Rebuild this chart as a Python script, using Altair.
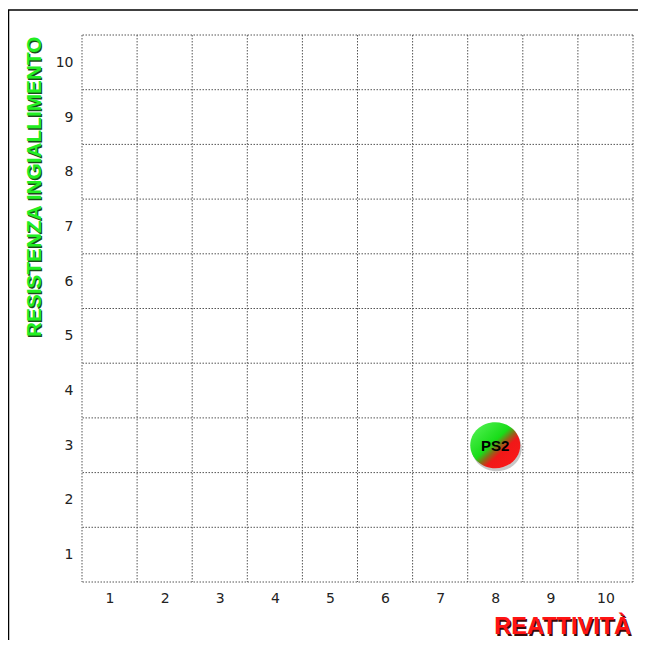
import altair as alt
import pandas as pd

# ---- data ----
ticks = [1, 2, 3, 4, 5, 6, 7, 8, 9, 10]
grid_edges = [0.5, 1.5, 2.5, 3.5, 4.5, 5.5, 6.5, 7.5, 8.5, 9.5, 10.5]
names = ["PS2"]
reattivita = [8]
resistenza = [3]
x_title = ["REATTIVITÀ"]
y_title = ["RESISTENZA INGIALLIMENTO"]

W, H = 551, 547
dom = [0.5, 10.5]

pts = pd.DataFrame({"name": names, "x": reattivita, "y": resistenza})
edges = pd.DataFrame({"e": grid_edges})

xs = alt.Scale(domain=dom, nice=False, zero=False)
ys = alt.Scale(domain=dom, nice=False, zero=False)

ax_common = dict(values=ticks, grid=False, domain=False, ticks=False,
                 labelFont="DejaVu Sans", labelFontSize=14, labelColor="#222",
                 title=None, format="d")
ax_x = alt.Axis(labelPadding=9, **ax_common)
ax_y = alt.Axis(labelPadding=9, **ax_common)

grid_style = dict(color="#555", strokeDash=[1.5, 1.5], strokeWidth=1)

vgrid = alt.Chart(edges).mark_rule(**grid_style).encode(
    x=alt.X("e:Q", scale=xs, axis=ax_x))
hgrid = alt.Chart(edges).mark_rule(**grid_style).encode(
    y=alt.Y("e:Q", scale=ys, axis=ax_y))

ellipse = "M -1 0 A 1 0.92 0 1 1 1 0 A 1 0.92 0 1 1 -1 0 Z"
grad = alt.LinearGradient(
    gradient="linear", x1=0, y1=0, x2=1, y2=1,
    stops=[alt.GradientStop(offset=0, color="#5cf55c"),
           alt.GradientStop(offset=0.45, color="#18dc18"),
           alt.GradientStop(offset=0.55, color="#8a6a18"),
           alt.GradientStop(offset=0.64, color="#f01818"),
           alt.GradientStop(offset=1, color="#ff1a1a")])

enc = dict(x=alt.X("x:Q", scale=xs, axis=ax_x), y=alt.Y("y:Q", scale=ys, axis=ax_y))

shadow = alt.Chart(pts).mark_point(shape=ellipse, size=2500, filled=True,
                                   color="#000", opacity=0.22, xOffset=1.5,
                                   yOffset=3).encode(**enc)
dot = alt.Chart(pts).mark_point(shape=ellipse, size=2500, filled=True,
                                fill=grad, strokeWidth=0, opacity=1).encode(**enc)
lbl = alt.Chart(pts).mark_text(font="Liberation Sans", fontWeight="bold",
                               fontSize=15, color="#000", dy=1).encode(
    text="name:N", **enc)

xt_df = pd.DataFrame({"t": x_title})
yt_df = pd.DataFrame({"t": y_title})
xt_style = dict(font="Liberation Sans", fontWeight="bold", fontSize=23.5,
                align="right", baseline="alphabetic")
xt_shadow = alt.Chart(xt_df).mark_text(color="#3a0a0a", **xt_style).encode(
    text="t:N", x=alt.value(W - 0.5), y=alt.value(600.5))
xt = alt.Chart(xt_df).mark_text(color="#ff1414", **xt_style).encode(
    text="t:N", x=alt.value(W - 2), y=alt.value(599))

yt_style = dict(font="Liberation Sans", fontWeight="bold", fontSize=20.8,
                align="left", baseline="middle", angle=270)
yt_shadow = alt.Chart(yt_df).mark_text(color="#1a4a1a", **yt_style).encode(
    text="t:N", x=alt.value(-46), y=alt.value(303.5))
yt = alt.Chart(yt_df).mark_text(color="#22ee22", **yt_style).encode(
    text="t:N", x=alt.value(-47.5), y=alt.value(302))

frame_top = alt.Chart(xt_df).mark_rule(color="#000", strokeWidth=1.5).encode(
    x=alt.value(-74), x2=alt.value(W + 5), y=alt.value(-25))
frame_left = alt.Chart(xt_df).mark_rule(color="#000", strokeWidth=1.5).encode(
    x=alt.value(-73.5), y=alt.value(-25), y2=alt.value(H + 58))

chart = alt.layer(vgrid, hgrid, shadow, dot, lbl, xt_shadow, xt, yt_shadow, yt,
                  frame_top, frame_left).properties(
    width=W, height=H, autosize="none",
    padding={"left": 74, "top": 27, "right": 5, "bottom": 58},
    background="white",
).configure_view(stroke=None)

chart.save("out.html", embed_options={"renderer": "svg", "actions": False})
